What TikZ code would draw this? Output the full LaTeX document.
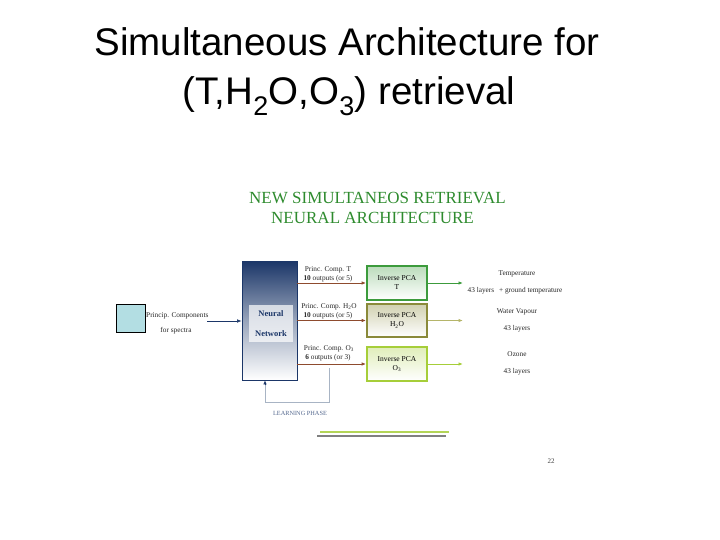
\documentclass[tikz,border=0pt]{standalone}
\usepackage{fontspec}
\setmainfont{Liberation Serif}
\newfontfamily\titlefont{Liberation Sans}
\usetikzlibrary{arrows.meta}
\definecolor{navy}{HTML}{1B3668}
\definecolor{tgreen}{HTML}{3C9B3C}
\definecolor{olive}{HTML}{8A8A3A}
\definecolor{olivel}{HTML}{B5B56A}
\definecolor{lgreen}{HTML}{A6CE39}
\definecolor{brownarr}{HTML}{8E4B2E}
\definecolor{hdgreen}{HTML}{2E8B2E}
\definecolor{cyanbox}{HTML}{B3DEE3}
\definecolor{fbline}{HTML}{A8B4C4}
\tikzset{
  tiny/.style={font=\fontsize{7.3}{8}\selectfont, text=black!85, inner sep=0pt},
  invbox/.style={minimum width=60pt, minimum height=34pt, inner sep=0pt, line width=1.8pt, bottom color=white,
     font=\fontsize{7.5}{9}\selectfont, align=center},
  arr/.style={-{Latex[length=4.5pt,width=3.5pt]}, line width=0.9pt},
}
\begin{document}
\begin{tikzpicture}[x=1pt,y=-1pt]
\useasboundingbox (0,0) rectangle (720,540);
% title
\node[font=\titlefont\fontsize{38.5}{49}\selectfont, anchor=base] (t1) at (347,56) {Simultaneous Architecture for};
\node[font=\titlefont\fontsize{38.5}{49}\selectfont, anchor=base] (t2) at (349,105) {(T,H\textsubscript{2}O,O\textsubscript{3}) retrieval};
% header
\node[font=\fontsize{17}{19}\selectfont, text=hdgreen, anchor=base west, inner sep=0pt] (h1) at (249,204) {NEW SIMULTANEOS RETRIEVAL};
\node[font=\fontsize{17}{19}\selectfont, text=hdgreen, anchor=base west, inner sep=0pt] (h2) at (271,223) {NEURAL ARCHITECTURE};
% input square
\node[draw=black, fill=cyanbox, minimum width=29pt, minimum height=28pt, inner sep=0pt, line width=0.7pt] (in) at (130.5,318) {};
\node[tiny, anchor=west] (pc) at (146,316) {Princip. Components};
\node[tiny] (fs) at (176,331) {for spectra};
\coordinate (ins) at (207,321);
% neural network box
\node[draw=navy, top color=navy, bottom color=white, middle color=navy!45, minimum width=55pt, minimum height=119pt, inner sep=0pt, line width=0.8pt] (nn) at (269.5,320.5) {};
\node[fill=white, fill opacity=0.7, text opacity=1, minimum width=44pt, minimum height=37pt, inner sep=0pt, text=navy,
      font=\bfseries\fontsize{8.5}{20}\selectfont, align=center] (nnl) at (271,323.5) {Neural\\Network};
\draw[arr, draw=navy, fill=navy, line width=0.6pt] (ins) -- (nn.west |- ins);
% inverse boxes
\node[invbox, draw=tgreen, top color=tgreen!35] (bt) at (397,283) {Inverse PCA\\T};
\node[invbox, draw=olive, top color=olive!40, minimum height=33pt] (bh) at (397,320.5) {Inverse PCA\\H\textsubscript{2}O};
\node[invbox, draw=lgreen, top color=lgreen!35] (bo) at (397,364) {Inverse PCA\\O\textsubscript{3}};
% arrows NN -> boxes
\draw[arr, draw=brownarr, fill=brownarr] (nn.east |- 0,283) -- (bt.west);
\draw[arr, draw=brownarr, fill=brownarr] (nn.east |- 0,320.5) -- (bh.west);
\draw[arr, draw=brownarr, fill=brownarr] (nn.east |- 0,364) -- (bo.west);
% labels on arrows
\node[tiny] (l1a) at (328,270) {Princ. Comp. T};
\node[tiny] (l1b) at (328,278.5) {\textbf{10} outputs (or 5)};
\node[tiny] (l2a) at (329,307) {Princ. Comp. H\textsubscript{2}O};
\node[tiny] (l2b) at (328,315.5) {\textbf{10} outputs (or 5)};
\node[tiny] (l3a) at (329,349) {Princ. Comp. O\textsubscript{3}};
\node[tiny] (l3b) at (328,357.5) {\textbf{6} outputs (or 3)};
% output arrows
\coordinate (ot) at (463,283);
\coordinate (oh) at (463,320.5);
\coordinate (oo) at (463,364);
\draw[arr, draw=tgreen, fill=tgreen] (bt.east) -- (ot);
\draw[arr, draw=olivel, fill=olivel] (bh.east) -- (oh);
\draw[arr, draw=lgreen, fill=lgreen] (bo.east) -- (oo);
% output texts
\node[tiny] (r1a) at (517,274) {Temperature};
\node[tiny] (r1b) at (515,290.5) {43 layers \, + ground temperature};
\node[tiny] (r2a) at (517,312) {Water Vapour};
\node[tiny] (r2b) at (517,328.5) {43 layers};
\node[tiny] (r3a) at (517,354.5) {Ozone};
\node[tiny] (r3b) at (517,372) {43 layers};
% learning phase
\coordinate (lp1) at (329,368);
\coordinate (lp2) at (329,402);
\coordinate (lp3) at (265,402);
\draw[fbline, line width=0.6pt] (lp1) -- (lp2) -- (lp3) -- ([yshift=-5pt]lp3 |- nn.south);
\draw[-{Latex[length=4pt,width=3.5pt]}, draw=navy, fill=navy, line width=0.6pt] ([yshift=-5pt]lp3 |- nn.south) -- (lp3 |- nn.south);
\node[font=\fontsize{6.3}{7}\selectfont, text=navy!75, inner sep=0pt] (lpt) at (300,413) {LEARNING PHASE};
% bottom lines
\coordinate (g1) at (320,432);
\coordinate (g2) at (449,432);
\coordinate (k1) at (317,436);
\coordinate (k2) at (446,436);
\draw[lgreen!85!white, line width=2pt] (g1) -- (g2);
\draw[gray, line width=2pt] (k1) -- (k2);
% page number
\node[font=\fontsize{7}{8}\selectfont, text=black!75, inner sep=0pt] (pg) at (551,461) {22};
\end{tikzpicture}
\end{document}
